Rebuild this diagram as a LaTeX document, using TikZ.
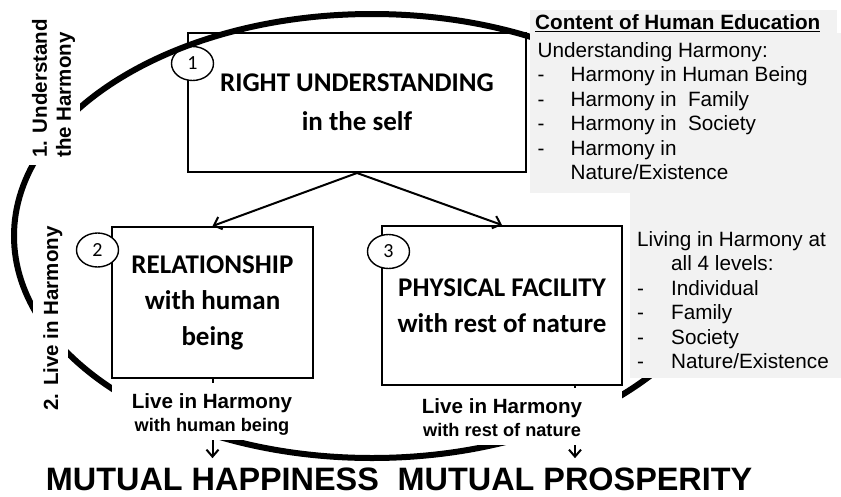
\documentclass[tikz,border=0pt]{standalone}
\usepackage{fontspec}
\setmainfont{Liberation Sans}
\newfontfamily\calfont{Carlito}
\usetikzlibrary{arrows.meta,shapes.geometric}
\definecolor{panelgray}{RGB}{242,242,242}
\begin{document}
\begin{tikzpicture}[x=1pt,y=-1pt,
  mainbox/.style={draw, line width=2pt, fill=white, inner sep=0pt, align=center,
    font=\calfont\bfseries\fontsize{27}{36}\selectfont},
  numcirc/.style={ellipse, draw, line width=1.4pt, fill=white, minimum width=42pt,
    minimum height=34pt, inner sep=0pt, font=\calfont\fontsize{20}{24}\selectfont},
  flow/.style={line width=2pt, -{Straight Barb[length=7pt,width=13pt]}},
  downarrow/.style={line width=2pt, -{Straight Barb[length=7pt,width=12pt]}},
  coverbox/.style={fill=white, draw=none, inner sep=0pt},
  panel/.style={fill=panelgray, draw=none, inner sep=0pt},
  sidelabel/.style={rotate=90, inner sep=0pt, align=left,
    font=\bfseries\fontsize{20.5}{24}\selectfont},
  livelabel/.style={inner sep=0pt, align=center, font=\bfseries\fontsize{20.6}{22.5}\selectfont},
  listtext/.style={inner sep=0pt, align=left, anchor=north west,
    font=\fontsize{20.7}{24.5}\selectfont},
  bigtext/.style={inner sep=0pt, anchor=base, font=\bfseries\fontsize{32.4}{36}\selectfont}
]
\useasboundingbox (0,0) rectangle (841,496);

% main boxes
\node[mainbox, minimum width=338pt, minimum height=139pt,
  font=\calfont\bfseries\fontsize{27}{39}\selectfont] (b1) at (357,102.5) {RIGHT UNDERSTANDING\\in the self};
\node[mainbox, minimum width=201pt, minimum height=151pt] (b2) at (212.5,302.5) {RELATIONSHIP\\with human\\being};
\node[mainbox, minimum width=240pt, minimum height=159pt] (b3) at (502,305.5) {PHYSICAL FACILITY\\with rest of nature};

% number circles
\node[numcirc] (c1) at (192.5,63.5) {1};
\node[numcirc] (c2) at (97.5,250) {2};
\node[numcirc] (c3) at (388.5,251.5) {3};

% arrows from box 1
\draw[flow] (b1.south) -- (b2.north);
\draw[flow] (b1.south) -- (b3.north);

% bottom texts
\node[bigtext] (happy) at (212.5,490) {MUTUAL HAPPINESS};
\node[bigtext] (prosp) at (575,490) {MUTUAL PROSPERITY};

% big cycle
\draw[line width=6pt] (372,236) ellipse [x radius=358pt, y radius=222pt];

% vertical arrows
\draw[downarrow, shorten >=9pt] (b2.south) -- (b2.south |- happy.north);
\draw[downarrow, shorten >=9pt] (prosp.north |- b3.south) -- (prosp.north);

% label covers
\node[coverbox, minimum width=200pt, minimum height=57pt] (lab2bg) at (212,411.5) {};
\node[coverbox, minimum width=240pt, minimum height=57pt] (lab3bg) at (502,416.5) {};
\node[livelabel] (lab2) at (212,414.6) {Live in Harmony\\{\fontsize{18.2}{22.5}\selectfont with human being}};
\node[livelabel] (lab3) at (502,417.8) {Live in Harmony\\{\fontsize{18.2}{22.5}\selectfont with rest of nature}};

% side labels
\node[coverbox, minimum width=58pt, minimum height=155pt] (s1bg) at (51,87.5) {};
\node[coverbox, minimum width=35pt, minimum height=207pt] (s2bg) at (50.5,318.5) {};
\node[sidelabel] (s1) at (53.6,88.5) {1. Understand\\the Harmony};
\node[sidelabel] (s2) at (52.8,318.5) {2. Live in Harmony};

% grey panels
\node[panel, minimum width=311pt, minimum height=160pt] (p1) at (685.5,113) {};
\node[panel, minimum width=307pt, minimum height=24pt] (p0) at (683.5,22) {};
\node[panel, minimum width=211pt, minimum height=188pt] (p2) at (735.5,284) {};

\node[inner sep=0pt, anchor=base west, font=\bfseries\fontsize{20.7}{24}\selectfont] (title) at (535,29.5)
  {\underline{Content of Human Education}};
\node[listtext] (list1) at (537.5,42) {Understanding Harmony:\\
\makebox[33pt][l]{-}Harmony in Human Being\\
\makebox[33pt][l]{-}Harmony in\ \ Family\\
\makebox[33pt][l]{-}Harmony in\ \ Society\\
\makebox[33pt][l]{-}Harmony in\\
\hspace*{33pt}Nature/Existence};
\node[listtext] (list2) at (637,231) {Living in Harmony at\\
\hspace*{34pt}all 4 levels:\\
\makebox[34pt][l]{-}Individual\\
\makebox[34pt][l]{-}Family\\
\makebox[34pt][l]{-}Society\\
\makebox[34pt][l]{-}Nature/Existence};
\end{tikzpicture}
\end{document}
